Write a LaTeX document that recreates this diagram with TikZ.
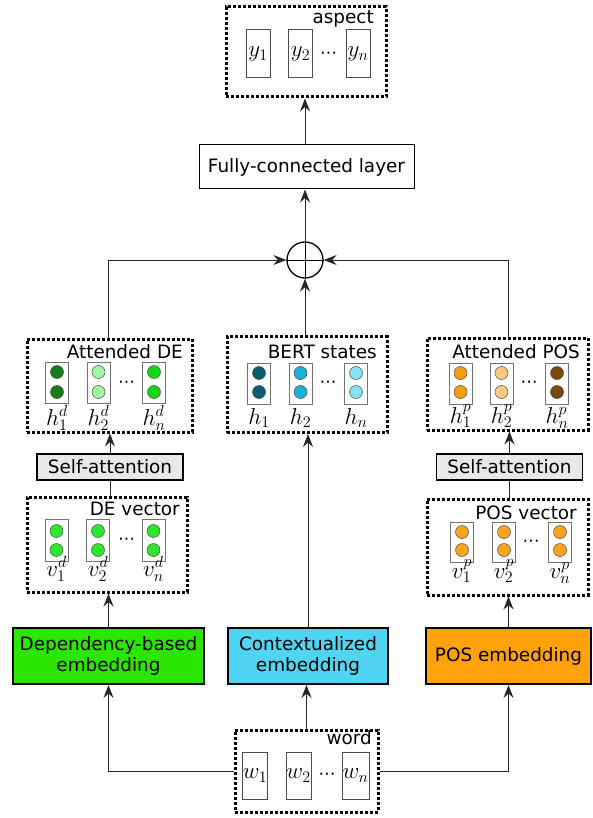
\RequirePackage{fix-cm}
\documentclass[tikz,border=0pt]{standalone}
\usepackage[no-math]{fontspec}
\setmainfont{DejaVu Sans}
\usetikzlibrary{arrows.meta}
\newcommand\tfont{\fontsize{18.4}{21}\selectfont}
\newcommand\mfont{\fontsize{23}{27}\selectfont}
\newcommand\dfont{\fontsize{17}{18}\selectfont}
\definecolor{gA}{HTML}{177D17}
\definecolor{gB}{HTML}{A3F5A3}
\definecolor{gC}{HTML}{14D614}
\definecolor{gV}{HTML}{2EE62E}
\definecolor{bA}{HTML}{0B5E70}
\definecolor{bB}{HTML}{1AAFD6}
\definecolor{bC}{HTML}{85E2F5}
\definecolor{oA}{HTML}{F0A00F}
\definecolor{oB}{HTML}{FAC97F}
\definecolor{oC}{HTML}{7A4A08}
\definecolor{oV}{HTML}{F7A51E}
\definecolor{depc}{HTML}{2BE600}
\definecolor{ctxc}{HTML}{4FD5F2}
\definecolor{posc}{HTML}{FFA20A}
\definecolor{sag}{HTML}{E8E8E8}
\newcommand\mkcell[7]{%
  \node[cell, minimum height=#4] (#1) at (#2,#3) {};
  \node[dotc, fill=#7] (#1a) at (#2,#5) {};
  \node[dotc, fill=#7] (#1b) at (#2,#6) {};
}
\begin{document}
\begin{tikzpicture}[x=1pt,y=-1pt,
  dotbox/.style={draw, line width=3pt, dash pattern=on 3pt off 2pt, inner sep=0pt},
  cell/.style={draw=black!55, line width=1pt, fill=white, minimum width=23pt, inner sep=0pt},
  ycell/.style={draw=black!70, line width=1pt, minimum width=24pt, minimum height=48pt, inner sep=0pt, font=\mfont},
  dotc/.style={circle, draw=black!70, line width=0.5pt, minimum size=13pt, inner sep=0pt},
  lab/.style={inner sep=0pt, font=\tfont},
  mlab/.style={inner sep=0pt, font=\mfont, anchor=base},
  dots/.style={inner sep=0pt, font=\dfont},
  sabox/.style={draw, line width=1.2pt, fill=sag, minimum width=146pt, minimum height=26pt, inner sep=0pt, font=\tfont},
  emb/.style={draw, line width=2pt, minimum height=56pt, inner sep=0pt, align=center, font=\tfont},
  conn/.style={line width=1pt, draw=black!85, -{Stealth[length=13pt,width=10pt,inset=4.5pt]}},
  plain/.style={line width=1pt, draw=black!85}
]
\useasboundingbox (0,0) rectangle (593,818);

% ---- aspect ----
\node[dotbox, minimum width=160pt, minimum height=90pt] (asp) at (306,52) {};
\node[lab, anchor=base east] (asplab) at (374,24) {aspect};
\node[ycell] (y1) at (258,54) {$y_1$};
\node[ycell] (y2) at (300.5,54) {$y_2$};
\node[ycell] (yn) at (358,54) {$y_n$};
\node[dots] (ydots) at (328.5,55) {⋯};

% ---- FC ----
\node[draw, line width=1pt, minimum width=215pt, minimum height=44pt, inner sep=0pt, font=\tfont] (fc) at (306.5,167) {Fully-connected layer};

% ---- plus ----
\node[circle, draw, line width=1.3pt, minimum size=36pt, inner sep=0pt] (plus) at (305,260) {};
\draw[line width=1pt] (plus.north) -- (plus.south) (plus.west) -- (plus.east);

% ---- Attended DE ----
\node[dotbox, minimum width=165pt, minimum height=93pt] (attde) at (109.5,385.5) {};
\node[lab, anchor=base east] (attdelab) at (183,358) {Attended DE};
\mkcell{hd1}{57}{382.5}{41pt}{372}{392}{gA}
\mkcell{hd2}{98.5}{382.5}{41pt}{372}{392}{gB}
\mkcell{hdn}{154}{382.5}{41pt}{372}{392}{gC}
\node[dots] (hddots) at (126.5,384) {⋯};
\node[mlab] (lhd1) at (57,425) {$h_1^d$};
\node[mlab] (lhd2) at (98.5,425) {$h_2^d$};
\node[mlab] (lhdn) at (154,425) {$h_n^d$};

% ---- BERT states ----
\node[dotbox, minimum width=160pt, minimum height=96pt] (bert) at (307,384.5) {};
\node[lab, anchor=base east] (bertlab) at (377,358) {BERT states};
\mkcell{hb1}{259}{383.5}{41pt}{373}{392}{bA}
\mkcell{hb2}{300.5}{383.5}{41pt}{373}{392}{bB}
\mkcell{hbn}{356}{383.5}{41pt}{373}{392}{bC}
\node[dots] (hbdots) at (328,384) {⋯};
\node[mlab] (lhb1) at (259,424) {$h_1$};
\node[mlab] (lhb2) at (300.5,424) {$h_2$};
\node[mlab] (lhbn) at (356,424) {$h_n$};

% ---- Attended POS ----
\node[dotbox, minimum width=161pt, minimum height=92pt] (attpos) at (507.5,384) {};
\node[lab, anchor=base east] (attposlab) at (580,358) {Attended POS};
\mkcell{hp1}{460.5}{383.5}{41pt}{373}{392}{oA}
\mkcell{hp2}{501.5}{383.5}{41pt}{373}{392}{oB}
\mkcell{hpn}{557}{383.5}{41pt}{373}{392}{oC}
\node[dots] (hpdots) at (529,384) {⋯};
\node[mlab] (lhp1) at (460.5,423) {$h_1^p$};
\node[mlab] (lhp2) at (501.5,423) {$h_2^p$};
\node[mlab] (lhpn) at (557,423) {$h_n^p$};

% ---- Self-attention ----
\node[sabox] (sa1) at (110,467) {Self-attention};
\node[sabox] (sa2) at (509.5,467) {Self-attention};

% ---- DE vector ----
\node[dotbox, minimum width=160pt, minimum height=95pt] (devec) at (107,544.5) {};
\node[lab, anchor=base east] (deveclab) at (180,515) {DE vector};
\mkcell{vd1}{56.5}{540}{42pt}{531}{550}{gV}
\mkcell{vd2}{98}{540}{42pt}{531}{550}{gV}
\mkcell{vdn}{153.5}{540}{42pt}{531}{550}{gV}
\node[dots] (vddots) at (126.5,541) {⋯};
\node[mlab] (lvd1) at (56.5,576) {$v_1^d$};
\node[mlab] (lvd2) at (98,576) {$v_2^d$};
\node[mlab] (lvdn) at (153.5,576) {$v_n^d$};

% ---- POS vector ----
\node[dotbox, minimum width=161pt, minimum height=96pt] (posvec) at (507.5,547) {};
\node[lab, anchor=base east] (posveclab) at (577,519) {POS vector};
\mkcell{vp1}{462}{542}{40pt}{532}{550}{oV}
\mkcell{vp2}{504}{542}{40pt}{532}{550}{oV}
\mkcell{vpn}{560}{542}{40pt}{532}{550}{oV}
\node[dots] (vpdots) at (531,543) {⋯};
\node[mlab] (lvp1) at (462,578) {$v_1^p$};
\node[mlab] (lvp2) at (504,578) {$v_2^p$};
\node[mlab] (lvpn) at (560,578) {$v_n^p$};

% ---- embeddings ----
\node[emb, fill=depc, minimum width=191pt] (dep) at (108.5,656) {Dependency-based\\embedding};
\node[emb, fill=ctxc, minimum width=160pt] (ctx) at (308,656) {Contextualized\\embedding};
\node[emb, fill=posc, minimum width=165pt] (posemb) at (508.5,656) {POS embedding};

% ---- word ----
\node[dotbox, minimum width=143pt, minimum height=82pt] (word) at (306.5,771) {};
\node[lab, anchor=base east] (wordlab) at (372,744) {word};
\node[ycell, minimum height=47pt] (w1) at (255,775.5) {$w_1$};
\node[ycell, minimum height=47pt, minimum width=25pt] (w2) at (298.5,775.5) {$w_2$};
\node[ycell, minimum height=47pt, minimum width=27pt] (wn) at (355.5,775.5) {$w_n$};
\node[dots] (wdots) at (327,776) {⋯};

% ---- connectors ----
\draw[conn] (word.west) -| (dep.south);
\draw[conn] (word.east) -| (posemb.south);
\draw[conn] (word.north) -- (word.north |- ctx.south);
\draw[conn] (dep.north) -- (dep.north |- devec.south);
\draw[conn] (ctx.north) -- (ctx.north |- bert.south);
\draw[conn] (posemb.north) -- (posemb.north |- posvec.south);
\draw[plain] (devec.north -| sa1.south) -- (sa1.south);
\draw[plain] (posvec.north -| sa2.south) -- (sa2.south);
\draw[conn] (sa1.north) -- (sa1.north |- attde.south);
\draw[conn] (sa2.north) -- (sa2.north |- attpos.south);
\draw[conn] (attde.north -| dep.north) |- (plus.west);
\draw[conn] (attpos.north -| posemb.north) |- (plus.east);
\draw[conn] (plus.south |- bert.north) -- (plus.south);
\draw[conn] (plus.north) -- (plus.north |- fc.south);
\draw[conn] (fc.north -| plus.north) -- (plus.north |- asp.south);
\end{tikzpicture}
\end{document}
